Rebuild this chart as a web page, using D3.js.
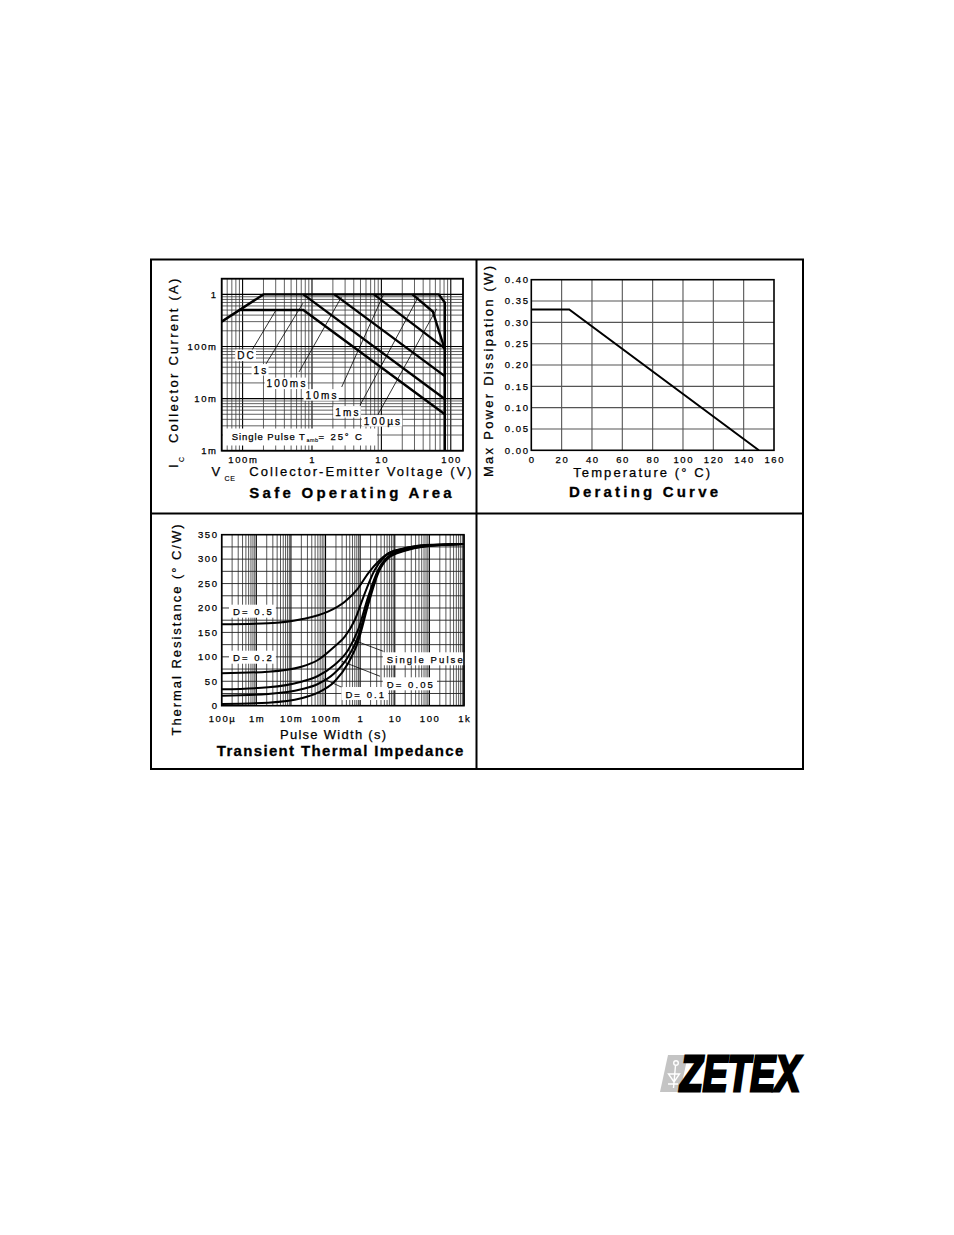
<!DOCTYPE html>
<html><head><meta charset="utf-8">
<script src="https://cdn.jsdelivr.net/npm/d3@7"></script>
<style>
body{margin:0;background:#fff}
svg{display:block}
text{font-family:"Liberation Sans",Arial,Helvetica,sans-serif;fill:#000}
</style>
</head><body>
<svg id="c" width="954" height="1235"></svg>
<script>
// ---------------- DATA ----------------
// Safe Operating Area (V in volts, I in amps)
const soaXTicks = [0.1, 1, 10, 100];
const soaXTickLabels = ["100m", "1", "10", "100"];
const soaYTicks = [0.001, 0.01, 0.1, 1];
const soaYTickLabels = ["1m", "10m", "100m", "1"];
const soaEnvelope = [[0.05, 0.3], [0.2, 1], [67, 1], [82, 0.7], [82, 0.001]];
const soaDC = [[0.09, 0.5], [0.75, 0.5], [82, 0.005]];
const soa1s = [[0.75, 1], [82, 0.0098]];
const soa100ms = [[2.1, 1], [82, 0.027]];
const soa10ms = [[7.8, 1], [82, 0.092]];
const soa1ms = [[28, 1], [55, 0.47], [82, 0.088]];
const soaSeriesNames = ["DC", "1s", "100ms", "10ms", "1ms", "100µs"];

// Derating curve (°C, W)
const derTempTicks = [0, 20, 40, 60, 80, 100, 120, 140, 160];
const derPowerTicks = [0, 0.05, 0.10, 0.15, 0.20, 0.25, 0.30, 0.35, 0.40];
const derating = [[0, 0.33], [25, 0.33], [150, 0]];

// Transient thermal impedance (s, °C/W)
const zthXTicks = [1e-4, 1e-3, 1e-2, 1e-1, 1, 10, 100, 1000];
const zthXTickLabels = ["100µ", "1m", "10m", "100m", "1", "10", "100", "1k"];
const zthYTicks = [0, 50, 100, 150, 200, 250, 300, 350];
const zthD05 = [[1e-4,166.6],[0.0022,168.6],[0.02,176.8],[0.117,192.4],[0.36,212.9],[0.87,240.3],[1.7,271],[3.3,294.7],[6.4,311.9],[19.5,322],[74,328.9],[1000,331]];
const zthD02 = [[1e-4,66.3],[0.0022,69.6],[0.02,79.8],[0.06,93.5],[0.18,120.8],[0.36,141.2],[0.7,175.4],[1.36,230],[2.63,277.7],[5.1,305],[12.6,318.7],[48,326.9],[1000,331]];
const zthD01 = [[1e-4,33.5],[0.0022,37.6],[0.02,49.1],[0.06,60.8],[0.18,83.3],[0.45,114],[0.87,155],[1.7,223],[3.3,277.7],[6.4,305],[19.5,320],[74,327],[1000,331]];
const zthD005 = [[1e-4,20.5],[0.0022,24],[0.02,33.5],[0.06,44.4],[0.18,66.3],[0.45,100.3],[0.87,141],[1.7,213],[3.3,274],[6.4,304],[19.5,318.7],[74,326.5],[1000,331]];
const zthSingle = [[1e-4,3.5],[0.0022,6.2],[0.02,15.1],[0.06,26.6],[0.18,49],[0.45,86.8],[0.87,131],[1.7,206],[3.3,271],[6.4,301.7],[19.5,317],[74,326],[1000,331]];
const zthSeriesNames = ["D= 0.5", "D= 0.2", "Single Pulse", "D= 0.05", "D= 0.1"];

// ---------------- LAYOUT ----------------
const svg = d3.select("#c");

function txt(g, x, y, s, o = {}) {
  const size = o.size || 9.5, ls = o.ls == null ? 1.6 : o.ls;
  const anchor = o.anchor || "start";
  const t = g.append("text")
    .attr("font-size", size)
    .attr("font-weight", o.weight || "normal")
    .attr("text-anchor", anchor)
    .attr("stroke", "#000").attr("stroke-width", o.sw == null ? 0.25 : o.sw)
    .text(s);
  if (o.len) { t.attr("textLength", o.len).attr("lengthAdjust", "spacing"); }
  else t.attr("letter-spacing", ls);
  let dx = 0;
  if (!o.len) { if (anchor === "middle") dx = ls / 2; else if (anchor === "end") dx = ls; }
  if (o.rotate) t.attr("transform", `translate(${x},${y}) rotate(-90)`).attr("x", dx).attr("y", 0);
  else t.attr("x", x + dx).attr("y", y);
  return t;
}

// frame
const frame = svg.append("g").attr("fill", "none").attr("stroke", "#000").attr("stroke-width", 2);
frame.append("rect").attr("x", 151).attr("y", 259.5).attr("width", 652).attr("height", 509.5);
frame.append("line").attr("x1", 476.5).attr("x2", 476.5).attr("y1", 259.5).attr("y2", 769);
frame.append("line").attr("x1", 151).attr("x2", 803).attr("y1", 513.5).attr("y2", 513.5);

function logGridValues(lo, hi) {
  const out = [];
  for (let e = Math.floor(Math.log10(lo)) - 1; e <= Math.ceil(Math.log10(hi)); e++) {
    for (let k = 1; k <= 9; k++) {
      const v = k * Math.pow(10, e);
      if (v >= lo * 0.9999 && v <= hi * 1.0001) out.push({ v, major: k === 1 });
    }
  }
  return out;
}

// ================= SOA =================
(function () {
  const x = d3.scaleLog().domain([0.05, 150]).range([221.7, 463]);
  const y = d3.scaleLog().domain([0.001, 2]).range([450.7, 278.7]);
  const g = svg.append("g");
  const gx = logGridValues(0.05, 150), gy = logGridValues(0.001, 2);
  g.append("g").selectAll("line").data(gx).join("line")
    .attr("x1", d => x(d.v)).attr("x2", d => x(d.v)).attr("y1", y.range()[0]).attr("y2", y.range()[1])
    .attr("stroke", d => d.major ? "#000" : "#3a3a3a").attr("stroke-width", d => d.major ? 1.1 : 0.8);
  g.append("g").selectAll("line").data(gy).join("line")
    .attr("y1", d => y(d.v)).attr("y2", d => y(d.v)).attr("x1", x.range()[0]).attr("x2", x.range()[1])
    .attr("stroke", d => d.major ? "#000" : "#3a3a3a").attr("stroke-width", d => d.major ? 1.1 : 0.8);

  const line = d3.line().x(d => x(d[0])).y(d => y(d[1]));
  const notes = [
    { at: [0.110, 0.0671], from: [0.137, 0.0857], to: [0.303, 0.5] },
    { at: [0.178, 0.0354], from: [0.217, 0.0461], to: [0.742, 0.68] },
    { at: [0.422, 0.0195], from: [0.65, 0.0324], to: [2.66, 0.89] },
    { at: [1.35, 0.0117], from: [2.68, 0.0167], to: [10.6, 0.96] },
    { at: [3.19, 0.00553], from: [4.92, 0.00743], to: [34, 0.89] },
    { at: [10.2, 0.00372], from: [8.93, 0.00494], to: [62.6, 0.53] },
  ];
  g.append("g").selectAll("line").data(notes).join("line")
    .attr("x1", d => x(d.from[0])).attr("y1", d => y(d.from[1]))
    .attr("x2", d => x(d.to[0])).attr("y2", d => y(d.to[1]))
    .attr("stroke", "#000").attr("stroke-width", 0.8);

  const curves = [soaEnvelope, soaDC, soa1s, soa100ms, soa10ms, soa1ms];
  g.append("g").selectAll("path").data(curves).join("path")
    .attr("d", line).attr("fill", "none").attr("stroke", "#000")
    .attr("stroke-width", 2.4).attr("stroke-linejoin", "miter");

  notes.forEach((n, i) => {
    const lg = g.append("g");
    const t = txt(lg, x(n.at[0]), y(n.at[1]) + 3.6, soaSeriesNames[i], { size: 10, ls: 2.2, anchor: "middle" });
    const b = t.node().getBBox();
    lg.insert("rect", "text").attr("x", b.x - 2).attr("y", b.y - 0.5).attr("width", b.width + 2).attr("height", b.height + 0.5).attr("fill", "#fff");
  });

  const sp = g.append("g");
  const x0 = x.range()[0];
  sp.append("rect").attr("x", x0 + 1).attr("y", 428.5).attr("width", 377 - x0 - 1).attr("height", 17).attr("fill", "#fff");
  txt(sp, x0 + 10, 439.5, "Single Pulse", { size: 9.5, len: 63 });
  txt(sp, 299, 439.5, "T", { size: 9.5, ls: 0 });
  txt(sp, 306.5, 441.5, "amb", { size: 5.5, ls: 0.4, sw: 0.1 });
  txt(sp, 318.5, 439.5, "= 25° C", { size: 9.5, ls: 1.9 });

  g.append("rect").attr("x", x.range()[0]).attr("y", y.range()[1])
    .attr("width", x.range()[1] - x.range()[0]).attr("height", y.range()[0] - y.range()[1])
    .attr("fill", "none").attr("stroke", "#000").attr("stroke-width", 1.8);

  soaXTicks.forEach((v, i) => txt(g, x(v), 462.5, soaXTickLabels[i], { anchor: "middle" }));
  soaYTicks.forEach((v, i) => txt(g, 216, y(v) + 3.3, soaYTickLabels[i], { anchor: "end" }));

  txt(g, 211.5, 475.5, "V", { size: 13, ls: 0 });
  txt(g, 224.5, 481, "CE", { size: 7, ls: 0.6, sw: 0.15 });
  txt(g, 249.3, 475.5, "Collector-Emitter Voltage (V)", { size: 13, len: 222.4 });
  txt(g, 177.5, 468, "I", { size: 13, rotate: true, ls: 0 });
  txt(g, 183.5, 462, "C", { size: 7, rotate: true, ls: 0, sw: 0.15 });
  txt(g, 177.5, 443, "Collector Current (A)", { size: 13, rotate: true, len: 164.3 });
  txt(g, 249.3, 497.5, "Safe Operating Area", { size: 15, weight: "bold", len: 202.4, sw: 0.3 });
})();

// ================= DERATING =================
(function () {
  const x = d3.scaleLinear().domain([0, 160]).range([531.3, 774]);
  const y = d3.scaleLinear().domain([0, 0.4]).range([450.3, 279.7]);
  const g = svg.append("g");
  g.append("g").selectAll("line").data(derTempTicks.slice(1, -1)).join("line")
    .attr("x1", d => x(d)).attr("x2", d => x(d)).attr("y1", y.range()[0]).attr("y2", y.range()[1])
    .attr("stroke", "#555").attr("stroke-width", 1.1);
  g.append("g").selectAll("line").data(derPowerTicks.slice(1, -1)).join("line")
    .attr("y1", d => y(d)).attr("y2", d => y(d)).attr("x1", x.range()[0]).attr("x2", x.range()[1])
    .attr("stroke", "#555").attr("stroke-width", 1.1);
  g.append("rect").attr("x", x.range()[0]).attr("y", y.range()[1])
    .attr("width", x.range()[1] - x.range()[0]).attr("height", y.range()[0] - y.range()[1])
    .attr("fill", "none").attr("stroke", "#000").attr("stroke-width", 1.6);
  g.append("path").datum(derating)
    .attr("d", d3.line().x(d => x(d[0])).y(d => y(d[1])))
    .attr("fill", "none").attr("stroke", "#000").attr("stroke-width", 2);
  const fmt = d3.format(".2f");
  derPowerTicks.forEach(v => txt(g, 528, y(v) + 3.3, fmt(v), { anchor: "end" }));
  derTempTicks.forEach(v => txt(g, x(v), 463, String(v), { anchor: "middle" }));
  txt(g, 573.3, 477, "Temperature (° C)", { size: 13, len: 136.7 });
  txt(g, 492.5, 477, "Max Power Dissipation (W)", { size: 13, rotate: true, len: 211 });
  txt(g, 569, 497, "Derating Curve", { size: 15, weight: "bold", len: 149, sw: 0.3 });
})();

// ================= TRANSIENT THERMAL =================
(function () {
  const x = d3.scaleLog().domain([1e-4, 1e3]).range([221.7, 464]);
  const y = d3.scaleLinear().domain([0, 350]).range([705.7, 534.7]);
  const g = svg.append("g");
  const gx = logGridValues(1e-4, 1e3);
  g.append("g").selectAll("line").data(gx).join("line")
    .attr("x1", d => x(d.v)).attr("x2", d => x(d.v)).attr("y1", y.range()[0]).attr("y2", y.range()[1])
    .attr("stroke", d => d.major ? "#000" : "#444").attr("stroke-width", d => d.major ? 1.1 : 0.9);
  g.append("g").selectAll("line").data(d3.range(25, 350, 25)).join("line")
    .attr("y1", d => y(d)).attr("y2", d => y(d)).attr("x1", x.range()[0]).attr("x2", x.range()[1])
    .attr("stroke", "#222").attr("stroke-width", 0.9);

  const notes = [
    { at: [2.12e-4, 192.4], anchor: "start" },
    { at: [2.12e-4, 98.2], anchor: "start" },
    { at: [73.6, 95], anchor: "middle", from: [4.69, 111.3], to: [0.603, 135] },
    { at: [27.2, 43.8], anchor: "middle", from: [3.76, 60.2], to: [0.294, 90.9] },
    { at: [1.36, 23.9], anchor: "middle", from: [0.327, 36.2], to: [0.0863, 55.3] },
  ];
  g.append("g").selectAll("line").data(notes.filter(n => n.from)).join("line")
    .attr("x1", d => x(d.from[0])).attr("y1", d => y(d.from[1]))
    .attr("x2", d => x(d.to[0])).attr("y2", d => y(d.to[1]))
    .attr("stroke", "#000").attr("stroke-width", 0.8);
  notes.forEach((n, i) => {
    const lg = g.append("g");
    const t = txt(lg, x(n.at[0]), y(n.at[1]) + 3.5, zthSeriesNames[i], { size: 9.5, ls: 2.1, anchor: n.anchor });
    const b = t.node().getBBox();
    lg.insert("rect", "text").attr("x", b.x - 4).attr("y", b.y - 1.5).attr("width", b.width + 6).attr("height", b.height + 2).attr("fill", "#fff");
  });

  const line = d3.line().x(d => x(d[0])).y(d => y(d[1])).curve(d3.curveMonotoneX);
  g.append("g").selectAll("path").data([zthD05, zthD02, zthD01, zthD005, zthSingle]).join("path")
    .attr("d", line).attr("fill", "none").attr("stroke", "#000").attr("stroke-width", 2);

  g.append("rect").attr("x", x.range()[0]).attr("y", y.range()[1])
    .attr("width", x.range()[1] - x.range()[0]).attr("height", y.range()[0] - y.range()[1])
    .attr("fill", "none").attr("stroke", "#000").attr("stroke-width", 1.6);

  zthXTicks.forEach((v, i) => txt(g, x(v), 721.5, zthXTickLabels[i], { anchor: "middle" }));
  zthYTicks.forEach(v => txt(g, 217, y(v) + 3.3, String(v), { anchor: "end" }));
  txt(g, 280, 739, "Pulse Width (s)", { size: 13, len: 106 });
  txt(g, 180.5, 735.5, "Thermal Resistance (° C/W)", { size: 13, rotate: true, len: 211 });
  txt(g, 216.7, 756, "Transient Thermal Impedance", { size: 15, weight: "bold", len: 246.6, sw: 0.3 });
})();

// ================= LOGO =================
(function () {
  const g = svg.append("g");
  g.append("path").attr("d", "M668,1055 L688,1055 L680,1092 L660,1092 Z").attr("fill", "#c4c4c4");
  const w = g.append("g").attr("stroke", "#fff").attr("stroke-width", 1.4).attr("fill", "none");
  w.append("circle").attr("cx", 676).attr("cy", 1063).attr("r", 2.3);
  w.append("path").attr("d", "M675.5,1065.5 L673.5,1088 M668.5,1074 L679.5,1074 L674,1082 Z M668,1084 L678,1084");
  g.append("text").attr("x", 680).attr("y", 1091)
    .attr("font-family", '"DejaVu Sans",sans-serif').attr("font-weight", "bold").attr("font-style", "italic")
    .attr("font-size", 50).attr("textLength", 120).attr("lengthAdjust", "spacingAndGlyphs")
    .attr("stroke", "#000").attr("stroke-width", 3).attr("stroke-linejoin", "miter")
    .text("ZETEX");
})();
</script>
</body></html>
